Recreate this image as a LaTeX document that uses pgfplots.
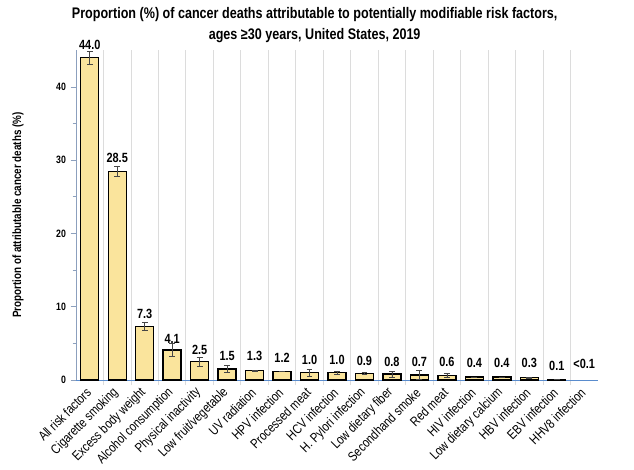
\documentclass[border=0pt]{standalone}
\usepackage{pgfplots}
\pgfplotsset{compat=1.18}
\usepackage{pgfplotstable}
\usepackage{fontspec}
\setmainfont{Liberation Sans}[FakeStretch=0.82]

\definecolor{barfill}{RGB}{250,228,156}
\definecolor{yaxcol}{RGB}{140,160,190}
\definecolor{xaxcol}{RGB}{90,140,205}
\definecolor{gridcol}{RGB}{220,220,220}
\definecolor{errcol}{RGB}{70,70,70}

% x = category index, y = value, e = error, ly = label height
\pgfplotstableread{
x y e ly lab
0 44.0 0.85 45.1 44.0
1 28.5 0.65 29.6 28.5
2 7.3 0.57 8.3 7.3
3 4.1 0.85 4.9 4.1
4 2.5 0.65 3.4 2.5
5 1.5 0.50 2.6 1.5
6 1.3 0.05 2.6 1.3
7 1.2 0.05 2.3 1.2
8 1.0 0.45 2.0 1.0
9 1.0 0.25 2.0 1.0
10 0.9 0.15 1.9 0.9
11 0.8 0.40 1.8 0.8
12 0.7 0.65 1.8 0.7
13 0.6 0.30 1.8 0.6
14 0.4 0.03 1.6 0.4
15 0.4 0.03 1.6 0.4
16 0.3 0.03 1.6 0.3
17 0.1 0.02 1.2 0.1
18 nan 0 1.5 <0.1
}\data

\begin{document}
\begin{tikzpicture}
\path[use as bounding box] (-57pt,-67.5pt) rectangle (418.5pt,285pt);
\begin{axis}[
    at={(0,0)}, anchor=south west,
    width=391.5pt, height=247.2pt, scale only axis,
    clip=false,
    xmin=-0.5, xmax=18.5,
    ymin=0, ymax=45,
    axis x line=bottom, axis y line=left,
    x axis line style={-, color=xaxcol, line width=0.6pt},
    y axis line style={-, color=yaxcol, line width=0.6pt},
    % category boundaries carry the grid, names sit on extra ticks
    xtick={0.5,1.5,...,17.5},
    xticklabels={},
    xmajorgrids=true,
    major x grid style={gridcol, line width=0.6pt},
    x tick style={gridcol, line width=0.6pt},
    xticklabel shift=7pt,
    extra x ticks={0,...,18},
    extra x tick labels={All risk factors, Cigarette smoking, Excess body weight,
        Alcohol consumption, Physical inactivity, Low fruit/vegetable,
        UV radiation, HPV infection, Processed meat, HCV infection,
        H. Pylori infection, Low dietary fiber, Secondhand smoke, Red meat,
        HIV infection, Low dietary calcium, HBV infection, EBV infection,
        HHV8 infection},
    extra x tick style={grid=none, major tick length=0pt,
        tick label style={rotate=45, anchor=east,
            inner sep=1pt, font=\fontsize{10}{12}\selectfont}},
    ytick={0,10,20,30,40},
    minor ytick={5,15,25,35},
    tick align=outside,
    y tick style={yaxcol, line width=0.6pt},
    major tick length=4pt, minor tick length=2.5pt,
    yticklabel style={font=\bfseries\fontsize{8}{9}\selectfont},
    /pgf/number format/assume math mode=true,
    ylabel={Proportion of attributable cancer deaths (\%)},
    every axis y label/.style={at={(axis description cs:0,0.5)},
        xshift=-43.5pt, rotate=90, anchor=center,
        font=\bfseries\fontsize{9}{11}\selectfont},
]
\addplot[ybar, bar shift=0pt, bar width=13.5pt, fill=barfill, draw=black,
    line width=1pt,
    error bars/.cd, y dir=both, y explicit,
    error bar style={errcol, line width=0.5pt},
    error mark options={rotate=90, mark size=2.2pt, errcol, line width=0.5pt}]
    table[x=x, y=y, y error=e] {\data};
\addplot[draw=none, mark=none, nodes near coords,
    point meta=explicit symbolic,
    nodes near coords style={anchor=south, inner sep=0pt,
        font=\bfseries\fontsize{10}{12}\selectfont}]
    table[x=x, y=ly, meta=lab] {\data};
\end{axis}
\node[align=center, font=\bfseries\fontsize{11.5}{15.75}\selectfont]
    at (179pt,266pt) {Proportion (\%) of cancer deaths attributable to potentially modifiable risk factors,\\ ages ≥30 years, United States, 2019};
\end{tikzpicture}
\end{document}
